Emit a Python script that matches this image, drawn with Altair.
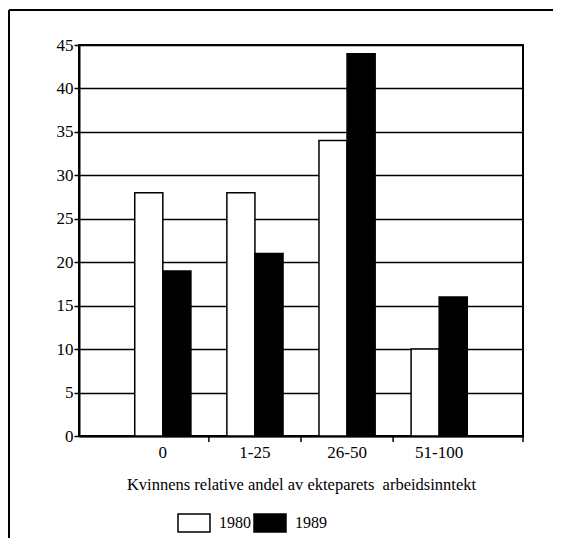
import altair as alt
import pandas as pd

categories = ["0", "1-25", "26-50", "51-100"]
years = ["1980", "1989"]
values_1980 = [28, 28, 34, 10]
values_1989 = [19, 21, 44, 16]
y_ticks = [0, 5, 10, 15, 20, 25, 30, 35, 40, 45]
x_title = "Kvinnens relative andel av ekteparets\u00a0 arbeidsinntekt"

rows = []
for c, a, b in zip(categories, values_1980, values_1989):
    rows.append({"cat": c, "year": "1980", "value": a})
    rows.append({"cat": c, "year": "1989", "value": b})
df = pd.DataFrame(rows)

W, H = 444, 391
FONT = "Liberation Serif"

x_scale = alt.Scale(domain=categories, paddingInner=0, paddingOuter=0.41)
x_axis = alt.Axis(ticks=False, grid=False, labelAngle=0, domainColor="black",
                  domainWidth=2, labelPadding=8, title=x_title,
                  titlePadding=16)

bars = alt.Chart(df).mark_bar(stroke="black", strokeWidth=1.5).encode(
    x=alt.X("cat:N", sort=categories, scale=x_scale, axis=x_axis, title=x_title),
    xOffset=alt.XOffset("year:N", sort=years,
                        scale=alt.Scale(paddingInner=0, paddingOuter=0.64)),
    y=alt.Y("value:Q", scale=alt.Scale(domain=[0, 45], nice=False),
            axis=alt.Axis(values=y_ticks, grid=True, gridColor="black", gridWidth=1.6,
                          domainColor="black", domainWidth=2, tickColor="black",
                          tickSize=5, tickWidth=1.5, labelPadding=1, title=None)),
    fill=alt.Fill("year:N", sort=years,
                  scale=alt.Scale(domain=years, range=["white", "black"]),
                  legend=alt.Legend(orient="none", legendX=98, legendY=461,
                                    direction="horizontal", title=None,
                                    symbolType="M-1,-0.5625H1V0.5625H-1Z",
                                    symbolSize=1024, symbolStrokeColor="black",
                                    symbolStrokeWidth=1.5,
                                    labelOffset=8, columnPadding=0, padding=0)),
)

tick_df = pd.DataFrame({"cat": categories[:3]})
band_ticks = alt.Chart(tick_df).mark_rule(color="black", strokeWidth=1.5).encode(
    x=alt.X("cat:N", sort=categories, bandPosition=1, scale=x_scale, axis=x_axis,
            title=x_title),
    y=alt.value(H), y2=alt.value(H + 6),
)

one = alt.Data(values=[{}])
end_tick = alt.Chart(one).mark_rule(color="black", strokeWidth=1.5).encode(
    x=alt.value(W), y=alt.value(H), y2=alt.value(H + 6))
frame_left = alt.Chart(one).mark_rule(color="black", strokeWidth=2).encode(
    x=alt.value(-70), y=alt.value(-35), y2=alt.value(493))
frame_top = alt.Chart(one).mark_rule(color="black", strokeWidth=2).encode(
    x=alt.value(-70), x2=alt.value(474), y=alt.value(-35))

chart = alt.layer(bars, band_ticks, end_tick, frame_left, frame_top).properties(
    width=W, height=H,
    autosize=alt.AutoSizeParams(type="none"),
    padding={"left": 71, "top": 37, "right": 30, "bottom": 102},
).configure_view(stroke="black", strokeWidth=2).configure_axis(
    labelFont=FONT, labelFontSize=17, labelColor="black",
    titleFont=FONT, titleFontSize=16.5, titleFontWeight="normal", titleColor="black",
).configure_legend(labelFont=FONT, labelFontSize=16, labelColor="black")

chart.save("out.html", embed_options={"renderer": "svg", "actions": False})
